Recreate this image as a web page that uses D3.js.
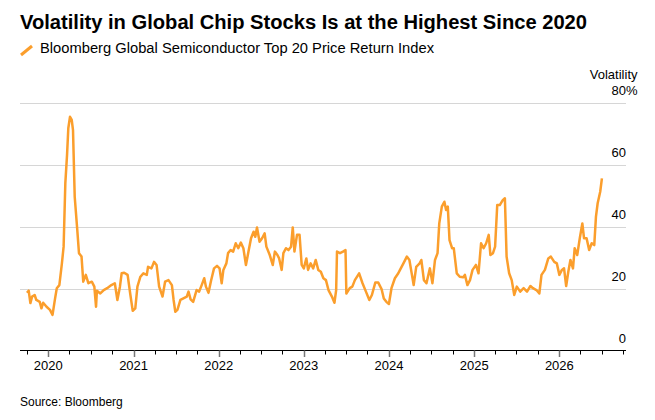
<!DOCTYPE html>
<html>
<head>
<meta charset="utf-8">
<script src="https://cdn.jsdelivr.net/npm/d3@7"></script>
<style>
  body { margin: 0; background: #fff; }
  svg text { font-family: "Liberation Sans", Arial, sans-serif; fill: #000; }
</style>
</head>
<body>
<svg id="chart" width="655" height="420"></svg>
<script>
// Chart data
// dates as decimal years, volatility in %
const dates = [
  2019.75, 2019.77, 2019.79, 2019.81, 2019.84, 2019.86, 2019.90, 2019.92, 2019.94, 2019.98,
  2020.02, 2020.05, 2020.08, 2020.10, 2020.13, 2020.16, 2020.18, 2020.20, 2020.22, 2020.235,
  2020.255, 2020.275, 2020.29, 2020.31, 2020.34, 2020.36, 2020.39, 2020.41, 2020.44, 2020.47,
  2020.51, 2020.54, 2020.56, 2020.57, 2020.61, 2020.65, 2020.69, 2020.74, 2020.78, 2020.81,
  2020.84, 2020.86, 2020.89, 2020.93, 2020.96, 2020.99, 2021.02, 2021.045, 2021.08, 2021.115,
  2021.155, 2021.17, 2021.21, 2021.24, 2021.27, 2021.30, 2021.34, 2021.37, 2021.41, 2021.45,
  2021.47, 2021.49, 2021.515, 2021.55, 2021.585, 2021.625, 2021.645, 2021.67, 2021.70, 2021.74,
  2021.77, 2021.80, 2021.83, 2021.85, 2021.88, 2021.91, 2021.945, 2021.98, 2022.01, 2022.035,
  2022.055, 2022.09, 2022.11, 2022.14, 2022.17, 2022.20, 2022.23, 2022.26, 2022.29, 2022.32,
  2022.35, 2022.38, 2022.41, 2022.43, 2022.45, 2022.48, 2022.51, 2022.54, 2022.56, 2022.60,
  2022.635, 2022.66, 2022.69, 2022.71, 2022.74, 2022.76, 2022.79, 2022.82, 2022.85, 2022.87,
  2022.89, 2022.92, 2022.95, 2022.975, 2023.00, 2023.03, 2023.05, 2023.08, 2023.11, 2023.14,
  2023.17, 2023.20, 2023.23, 2023.26, 2023.29, 2023.33, 2023.36, 2023.38, 2023.39, 2023.425,
  2023.46, 2023.49, 2023.50, 2023.54, 2023.57, 2023.60, 2023.65, 2023.69, 2023.73, 2023.77,
  2023.80, 2023.84, 2023.875, 2023.915, 2023.94, 2023.97, 2024.00, 2024.03, 2024.07, 2024.11,
  2024.13, 2024.17, 2024.21, 2024.24, 2024.27, 2024.29, 2024.32, 2024.36, 2024.38, 2024.41,
  2024.44, 2024.48, 2024.51, 2024.54, 2024.57, 2024.59, 2024.62, 2024.65, 2024.67, 2024.69,
  2024.71, 2024.74, 2024.76, 2024.795, 2024.83, 2024.87, 2024.89, 2024.92, 2024.95, 2024.98,
  2025.02, 2025.05, 2025.08, 2025.11, 2025.14, 2025.17, 2025.19, 2025.22, 2025.245, 2025.27,
  2025.30, 2025.335, 2025.36, 2025.38, 2025.41, 2025.44, 2025.47, 2025.50, 2025.54, 2025.58,
  2025.62, 2025.66, 2025.69, 2025.73, 2025.765, 2025.79, 2025.83, 2025.87, 2025.90, 2025.94,
  2025.97, 2026.00, 2026.03, 2026.055, 2026.08, 2026.105, 2026.13, 2026.16, 2026.18, 2026.21,
  2026.24, 2026.27, 2026.29, 2026.32, 2026.35, 2026.38, 2026.41, 2026.43, 2026.45, 2026.48,
  2026.50
];
const volatility = [
  18.6, 19.3, 15.3, 17.4, 17.9, 16.3, 15.7, 13.6, 15.4, 14.1,
  13.1, 11.5, 16.8, 20.1, 21.1, 28.1, 33.5, 53.9, 63.0, 71.7,
  75.4, 74.4, 71.1, 49.6, 38.9, 31.4, 30.3, 22.2, 24.4, 21.7,
  22.2, 20.6, 14.1, 19.3, 18.4, 19.5, 20.1, 21.1, 21.7, 16.3,
  20.6, 24.9, 25.1, 24.4, 18.4, 12.8, 13.6, 20.6, 23.8, 24.9,
  24.4, 27.0, 26.5, 28.6, 27.6, 20.6, 17.4, 22.2, 22.7, 21.1,
  16.3, 12.5, 13.1, 16.3, 16.8, 17.4, 19.0, 16.5, 15.7, 19.5,
  19.0, 21.1, 23.3, 20.6, 18.6, 22.5, 26.5, 27.3, 26.5, 21.7,
  26.0, 28.1, 31.4, 32.4, 31.9, 34.6, 33.0, 34.8, 33.0, 27.6,
  31.9, 36.2, 38.3, 36.7, 39.7, 35.1, 36.2, 37.8, 33.5, 30.8,
  27.6, 31.9, 30.8, 29.7, 26.0, 31.4, 33.0, 32.4, 33.5, 39.7,
  31.9, 37.3, 37.3, 27.6, 26.5, 29.7, 26.0, 28.1, 26.5, 29.2,
  26.0, 25.4, 23.3, 22.7, 19.5, 17.4, 15.4, 19.5, 31.9, 31.4,
  31.9, 32.4, 18.4, 20.1, 20.6, 22.7, 24.9, 21.7, 19.0, 16.3,
  17.9, 21.9, 21.9, 19.7, 16.8, 15.7, 15.0, 20.1, 23.3, 24.9,
  26.0, 28.1, 30.3, 29.2, 24.4, 21.1, 27.0, 28.1, 29.2, 22.7,
  21.7, 26.5, 21.7, 29.2, 31.4, 41.0, 46.4, 48.0, 45.3, 46.4,
  35.6, 33.0, 33.0, 24.9, 23.8, 23.6, 24.4, 21.1, 22.7, 26.0,
  27.6, 24.9, 34.6, 33.0, 34.6, 37.3, 30.8, 31.4, 33.5, 46.9,
  46.9, 48.5, 49.1, 30.3, 24.9, 22.7, 17.9, 20.6, 19.0, 20.1,
  19.0, 20.8, 20.1, 19.5, 18.4, 24.4, 26.0, 29.7, 30.3, 28.6,
  28.1, 24.4, 26.0, 26.5, 20.8, 25.4, 29.2, 26.5, 33.0, 30.8,
  36.2, 41.0, 36.2, 36.2, 32.4, 34.6, 34.0, 43.2, 47.5, 51.2,
  55.5
];
const yTicks = [0, 20, 40, 60, 80];
const xDomain = [2019.668, 2026.783];

const title = "Volatility in Global Chip Stocks Is at the Highest Since 2020";
const legendLabel = "Bloomberg Global Semiconductor Top 20 Price Return Index";
const yLabel = "Volatility";
const source = "Source: Bloomberg";

// decimal year -> Date
const toDate = t => {
    let y = Math.floor(t);
    let start = Date.UTC(y, 0, 1), end = Date.UTC(y + 1, 0, 1);
    return new Date(start + (t - y) * (end - start));
};

const data = dates.map((t, i) => ({ date: toDate(t), value: volatility[i] }));

const svg = d3.select("#chart");
const orange = "#fb9e2c";

const x = d3.scaleUtc().domain(xDomain.map(toDate)).range([20, 626]);
const y = d3.scaleLinear().domain([0, 80]).range([350.5, 102.5]);

// Title & legend
svg.append("text")
    .attr("x", 20).attr("y", 29)
    .attr("font-size", 19.5).attr("font-weight", "bold")
    .attr("textLength", 567).attr("lengthAdjust", "spacingAndGlyphs")
    .text(title);

svg.append("line")
    .attr("x1", 21).attr("y1", 55).attr("x2", 32).attr("y2", 46)
    .attr("stroke", orange).attr("stroke-width", 3);

svg.append("text")
    .attr("x", 40).attr("y", 53)
    .attr("font-size", 14)
    .attr("textLength", 394).attr("lengthAdjust", "spacingAndGlyphs")
    .text(legendLabel);

// Gridlines
svg.append("g").selectAll("line")
    .data(yTicks.filter(d => d > 0))
    .enter().append("line")
    .attr("x1", 20).attr("x2", 626)
    .attr("y1", d => Math.round(y(d)) + 0.5).attr("y2", d => Math.round(y(d)) + 0.5)
    .attr("stroke", "#d6d6d6").attr("stroke-width", 1);

// Y labels (right side, above gridlines)
svg.append("g").selectAll("text")
    .data(yTicks)
    .enter().append("text")
    .attr("x", 626).attr("y", d => y(d) - 7.5)
    .attr("text-anchor", "end")
    .attr("font-size", 13)
    .text(d => d);

svg.append("text")
    .attr("x", 626).attr("y", y(80) - 7.5)
    .attr("font-size", 13)
    .text("%");

svg.append("text")
    .attr("x", 637.5).attr("y", 79)
    .attr("text-anchor", "end")
    .attr("font-size", 13)
    .text(yLabel);

// X axis: minor quarterly ticks, major yearly ticks
const years = x.ticks(d3.utcYear.every(1));
const quarters = d3.utcMonth.every(3).range(...x.domain()).filter(d => d.getUTCMonth() !== 0);

const xAxisG = svg.append("g").attr("transform", "translate(0,350.5)");
xAxisG.append("line")
    .attr("x1", 20).attr("x2", 626)
    .attr("stroke", "#000").attr("stroke-width", 1);

xAxisG.selectAll(".minor")
    .data(quarters)
    .enter().append("line")
    .attr("class", "minor")
    .attr("x1", d => Math.round(x(d)) + 0.5).attr("x2", d => Math.round(x(d)) + 0.5)
    .attr("y1", 0).attr("y2", 4)
    .attr("stroke", "#000").attr("stroke-width", 1);

xAxisG.selectAll(".major")
    .data(years)
    .enter().append("line")
    .attr("class", "major")
    .attr("x1", d => Math.round(x(d)) + 0.5).attr("x2", d => Math.round(x(d)) + 0.5)
    .attr("y1", 0).attr("y2", 6.5)
    .attr("stroke", "#777").attr("stroke-width", 1.5);

xAxisG.selectAll(".yearLabel")
    .data(years)
    .enter().append("text")
    .attr("class", "yearLabel")
    .attr("x", d => x(d)).attr("y", 19.5)
    .attr("text-anchor", "middle")
    .attr("font-size", 13)
    .text(d3.utcFormat("%Y"));

// Line
const lineGen = d3.line()
    .x(d => x(d.date))
    .y(d => y(d.value));

svg.append("path")
    .datum(data)
    .attr("d", lineGen)
    .attr("fill", "none")
    .attr("stroke", orange)
    .attr("stroke-width", 2.5)
    .attr("stroke-linejoin", "round");

// Source
svg.append("text")
    .attr("x", 20).attr("y", 406)
    .attr("font-size", 12)
    .text(source);
</script>
</body>
</html>
